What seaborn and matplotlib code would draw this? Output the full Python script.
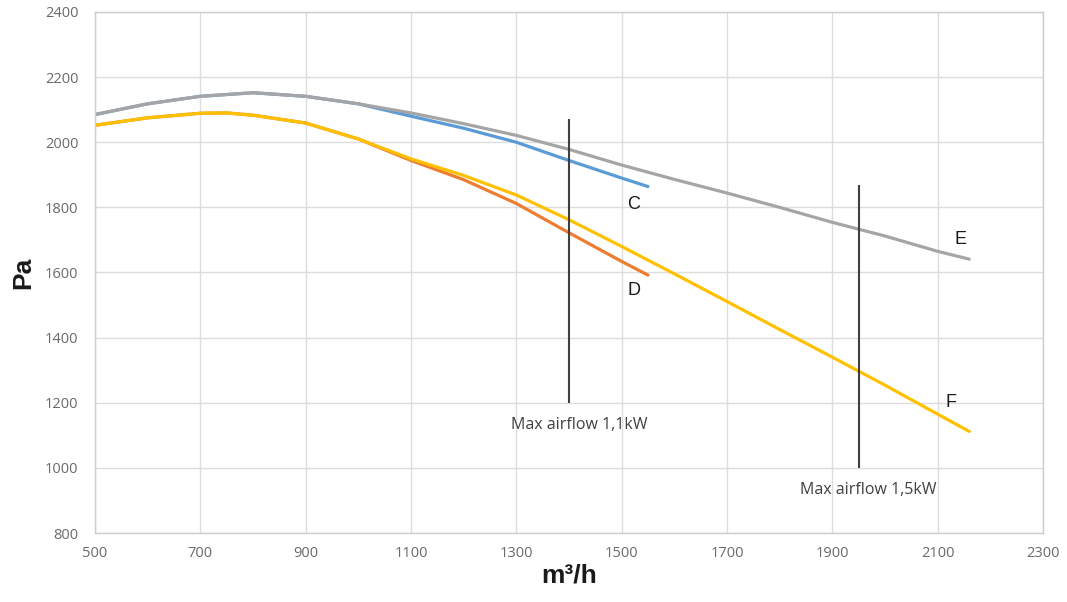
import matplotlib
matplotlib.use("Agg")
import matplotlib.pyplot as plt
import seaborn as sns
import pandas as pd

# ---- data ----
x_C = [500, 600, 700, 800, 900, 1000, 1100, 1200, 1300, 1400, 1500, 1550]
y_C = [2085, 2118, 2141, 2152, 2141, 2118, 2080, 2043, 2000, 1944, 1890, 1864]

x_D = [500, 600, 700, 750, 800, 900, 1000, 1100, 1200, 1300, 1400, 1500, 1550]
y_D = [2052, 2075, 2089, 2090, 2083, 2059, 2010, 1944, 1885, 1812, 1722, 1634, 1592]

x_E = [500, 600, 700, 800, 900, 1000, 1100, 1200, 1300, 1400, 1500, 1600, 1700,
       1800, 1900, 2000, 2100, 2160]
y_E = [2085, 2118, 2141, 2152, 2141, 2118, 2090, 2057, 2021, 1978, 1930, 1886, 1844,
       1800, 1754, 1712, 1665, 1641]

x_F = [500, 600, 700, 750, 800, 900, 1000, 1100, 1200, 1300, 1400, 1500, 1600, 1700,
       1800, 1900, 2000, 2100, 2160]
y_F = [2052, 2075, 2089, 2090, 2083, 2059, 2010, 1949, 1898, 1838, 1762, 1680, 1596, 1511,
       1425, 1340, 1254, 1165, 1112]

series_names = ["C", "D", "E", "F"]
series_colors = ["#5B9BD5", "#ED7D31", "#A5A5A5", "#FFC000"]

# max airflow markers
limit_x = [1400, 1950]
limit_ymin = [1200, 1000]
limit_ymax = [2070, 1870]
limit_text = ["Max airflow 1,1kW", "Max airflow 1,5kW"]
limit_text_x = [1420, 1968]
limit_text_y = [1133, 932]

# curve labels
label_x = [1523, 1523, 2144, 2125]
label_y = [1808, 1545, 1700, 1200]

x_ticks = [500, 700, 900, 1100, 1300, 1500, 1700, 1900, 2100, 2300]
y_ticks = [800, 1000, 1200, 1400, 1600, 1800, 2000, 2200, 2400]

# ---- build long table ----
frames = []
for name, xs, ys in zip(series_names, [x_C, x_D, x_E, x_F], [y_C, y_D, y_E, y_F]):
    frames.append(pd.DataFrame({"airflow": xs, "pressure": ys, "series": name}))
df = pd.concat(frames, ignore_index=True)

sns.set_theme(style="whitegrid")
plt.rcParams["font.family"] = ["Open Sans", "DejaVu Sans"]

fig = plt.figure(figsize=(10.67, 6.02), dpi=100)
ax = fig.add_axes([0.089, 0.1146, 0.8885, 0.8655])

sns.lineplot(data=df, x="airflow", y="pressure", hue="series",
             hue_order=series_names, palette=series_colors,
             sort=False, estimator=None, linewidth=2.3, legend=False, ax=ax)

ax.vlines(limit_x, limit_ymin, limit_ymax, colors="#3f3f3f", linewidth=1.5, zorder=5)
for t, tx, ty in zip(limit_text, limit_text_x, limit_text_y):
    ax.text(tx, ty, t, ha="center", va="center", fontsize=11.5, color="#404040",
            family=["Open Sans", "DejaVu Sans"])

for name, lx, ly in zip(series_names, label_x, label_y):
    ax.text(lx, ly, name, ha="center", va="center", fontsize=13, color="#1a1a1a",
            family=["Liberation Sans", "DejaVu Sans"])

ax.set_xlim(500, 2300)
ax.set_ylim(800, 2400)
ax.set_xticks(x_ticks)
ax.set_yticks(y_ticks)
ax.tick_params(axis="both", labelsize=10.5, colors="#6a6a6a", length=0)
ax.tick_params(axis="y", pad=12)
ax.tick_params(axis="x", pad=9)
ax.grid(True, color="#DDDDDD", linewidth=1.0)
for s in ax.spines.values():
    s.set_visible(True)
    s.set_color("#CCCCCC")
    s.set_linewidth(1.0)

ax.set_xlabel("m³/h", fontsize=19, fontweight="bold", color="#1a1a1a",
              family=["Liberation Sans", "DejaVu Sans"], labelpad=2)
ax.set_ylabel("Pa", fontsize=19, fontweight="bold", color="#1a1a1a",
              family=["Liberation Sans", "DejaVu Sans"], labelpad=7)

fig.savefig("out.png", dpi=100, facecolor="white")
